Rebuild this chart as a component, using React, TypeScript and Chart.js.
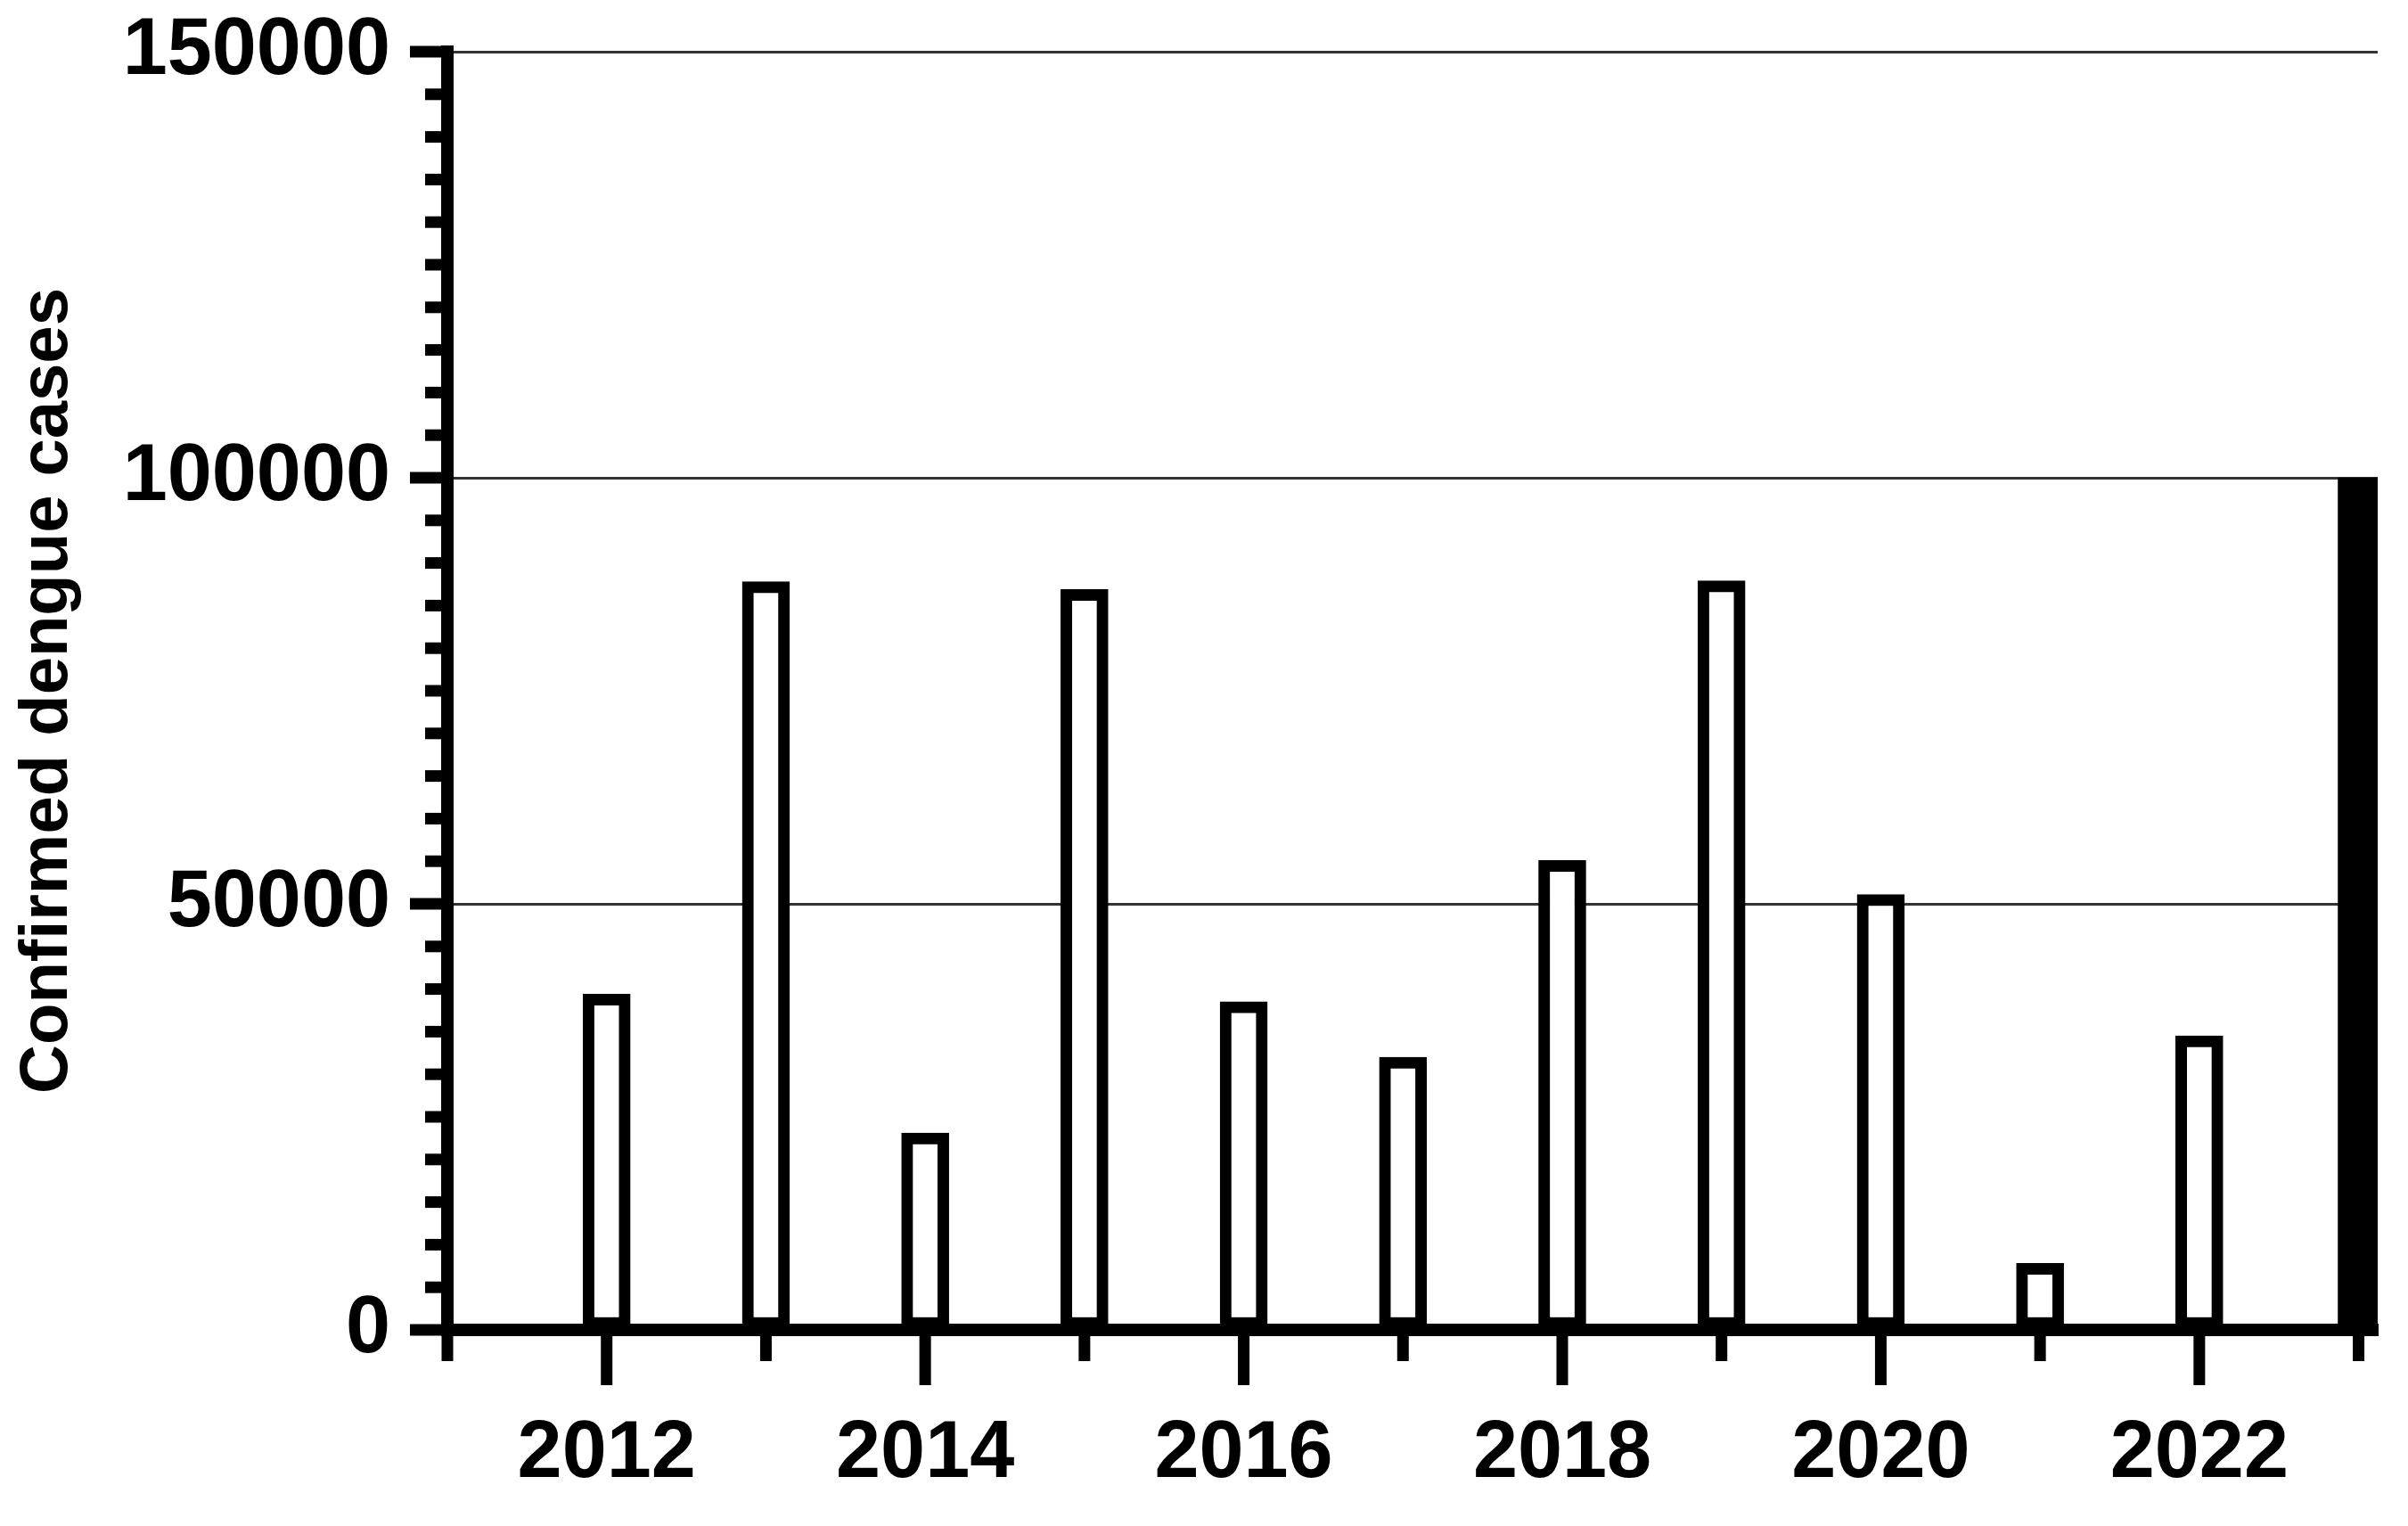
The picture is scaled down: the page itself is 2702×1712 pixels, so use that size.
import React, { useEffect, useRef } from 'react';
import { Chart, registerables } from 'chart.js';

Chart.register(...registerables);

// ---- data ----
const years = [2012, 2013, 2014, 2015, 2016, 2017, 2018, 2019, 2020, 2021, 2022];
const cases = [39400, 87800, 23100, 86900, 38500, 32000, 55100, 87900, 51100, 7800, 34500];
const markerYears = [2023];
const markerValues = [100000];
const tickYears = [2011, 2012, 2013, 2014, 2015, 2016, 2017, 2018, 2019, 2020, 2021, 2022, 2023];
const labelYears = [2012, 2014, 2016, 2018, 2020, 2022];
const yMajorTicks = [0, 50000, 100000, 150000];
const yTitle = 'Confirmed dengue cases';

const X_MIN = 2011;
const X_MAX = 2023.12;
const Y_MAX = 150000;
const Y_MINOR_STEP = 5000;
const FONT = '"Liberation Sans", Arial, Helvetica, sans-serif';

const axisTicksPlugin = {
  id: 'axisTicks',
  afterDraw(chart: any) {
    const { ctx, scales } = chart;
    const x = scales.x;
    const y = scales.y;
    const x0 = x.getPixelForValue(X_MIN);
    const y0 = y.getPixelForValue(0);
    ctx.save();
    ctx.strokeStyle = '#000';
    ctx.lineWidth = 13;
    ctx.lineCap = 'butt';
    for (const yr of tickYears) {
      const px = x.getPixelForValue(yr);
      const len = labelYears.includes(yr) ? 62 : 35;
      ctx.beginPath();
      ctx.moveTo(px, y0);
      ctx.lineTo(px, y0 + len);
      ctx.stroke();
    }
    for (let v = 0; v <= Y_MAX; v += Y_MINOR_STEP) {
      const py = y.getPixelForValue(v);
      const len = yMajorTicks.includes(v) ? 42 : 25;
      ctx.beginPath();
      ctx.moveTo(x0, py);
      ctx.lineTo(x0 - len, py);
      ctx.stroke();
    }
    ctx.restore();
  },
};

export default function App() {
  const ref = useRef<HTMLCanvasElement | null>(null);

  useEffect(() => {
    document.body.style.margin = '0';
    const canvas = ref.current;
    if (!canvas) return;
    const chart = new Chart(canvas, {
      type: 'bar',
      data: {
        datasets: [
          {
            data: years.map((yr, i) => ({ x: yr, y: cases[i] })),
            backgroundColor: '#ffffff',
            borderColor: '#000000',
            borderWidth: 13,
            borderSkipped: false,
            barThickness: 53,
            grouped: false,
          } as any,
          {
            data: markerYears.map((yr, i) => ({ x: yr, y: markerValues[i] })),
            backgroundColor: '#000000',
            borderColor: '#000000',
            borderWidth: 0,
            barThickness: 46,
            grouped: false,
          } as any,
        ],
      },
      options: {
        animation: false,
        responsive: false,
        maintainAspectRatio: false,
        layout: { padding: { left: 0, top: 58, right: 34, bottom: 0 } },
        plugins: {
          legend: { display: false },
          tooltip: { enabled: false },
        },
        scales: {
          x: {
            type: 'linear',
            offset: false,
            min: X_MIN,
            max: X_MAX,
            grid: { display: false, drawTicks: false },
            border: { display: true, color: '#000', width: 14 },
            ticks: {
              stepSize: 1,
              includeBounds: false,
              autoSkip: false,
              maxRotation: 0,
              minRotation: 0,
              padding: 86,
              color: '#000',
              font: { family: FONT, size: 90, weight: 'bold' },
              callback: (v: any) => (labelYears.includes(Number(v)) ? String(v) : ''),
            },
            afterFit: (scale: any) => {
              scale.height = 220;
              scale.paddingLeft = 0;
              scale.paddingRight = 0;
            },
          },
          y: {
            type: 'linear',
            min: 0,
            max: Y_MAX,
            grid: {
              display: true,
              drawTicks: false,
              lineWidth: 3,
              color: (c: any) => (c.tick && c.tick.value === 0 ? 'rgba(0,0,0,0)' : '#333'),
            },
            border: { display: true, color: '#000', width: 14 },
            ticks: {
              stepSize: 50000,
              padding: 64,
              color: '#000',
              font: { family: FONT, size: 90, weight: 'bold' },
              callback: (v: any) => String(v),
            },
            title: {
              display: true,
              text: yTitle,
              color: '#000',
              font: { family: FONT, size: 76, weight: 'bold' },
              padding: { top: 8, bottom: 0 },
            },
            afterFit: (scale: any) => {
              scale.width = 502;
              scale.paddingTop = 0;
              scale.paddingBottom = 0;
            },
          },
        },
      } as any,
      plugins: [axisTicksPlugin],
    });
    return () => chart.destroy();
  }, []);

  return (
    <div style={{ width: 2702, height: 1712, background: '#fff' }}>
      <canvas ref={ref} width={2702} height={1712} style={{ display: 'block' }} />
    </div>
  );
}
